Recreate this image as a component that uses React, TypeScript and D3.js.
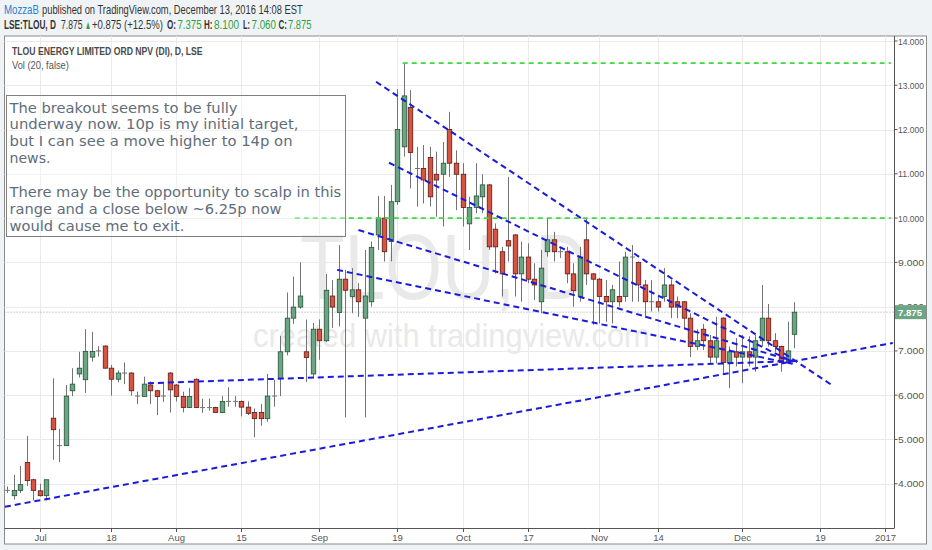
import { useLayoutEffect, useRef, useState } from "react";
import * as d3 from "d3";

// trading sessions on the LSE, Jun 24 2016 .. Dec 13 2016 (Aug 29 bank holiday closed)
const sessions: [string, string][] = [
  ["2016-06", "24 27 28 29 30"],
  ["2016-07", "01 04 05 06 07 08 11 12 13 14 15 18 19 20 21 22 25 26 27 28 29"],
  ["2016-08", "01 02 03 04 05 08 09 10 11 12 15 16 17 18 19 22 23 24 25 26 30 31"],
  ["2016-09", "01 02 05 06 07 08 09 12 13 14 15 16 19 20 21 22 23 26 27 28 29 30"],
  ["2016-10", "03 04 05 06 07 10 11 12 13 14 17 18 19 20 21 24 25 26 27 28 31"],
  ["2016-11", "01 02 03 04 07 08 09 10 11 14 15 16 17 18 21 22 23 24 25 28 29 30"],
  ["2016-12", "01 02 05 06 07 08 09 12 13"],
];
// empty space on the right of the chart (weekdays)
const futureSessions: [string, string][] = [
  ["2016-12", "14 15 16 19 20 21 22 23 26 27 28 29 30"],
  ["2017-01", "02 03 04"],
];

// open, high, low, close (pence)
const ohlc: [number, number, number, number][] = [
  [3.85, 3.94, 3.79, 3.85], [3.73, 4.2, 3.64, 3.85], [3.85, 4.4, 3.79, 3.98], [4.48, 5.08, 3.95, 4.07],
  [4.09, 4.11, 3.62, 3.85], [3.84, 4.0, 3.71, 3.73], [3.73, 4.09, 3.62, 4.09], [5.48, 6.38, 4.54, 5.22],
  [4.86, 5.24, 4.49, 4.86], [4.86, 6.23, 4.86, 5.98], [6.1, 6.61, 5.98, 6.25], [6.48, 6.98, 6.4, 6.61],
  [6.35, 7.49, 6.05, 6.99], [6.86, 7.43, 6.76, 6.99], [7.0, 7.11, 6.87, 7.0], [7.11, 7.13, 6.6, 6.61],
  [6.61, 6.68, 5.99, 6.36], [6.36, 6.56, 6.29, 6.5], [6.5, 6.74, 6.25, 6.5], [6.5, 6.52, 5.99, 6.1],
  [5.98, 6.08, 5.8, 5.98], [5.97, 6.42, 5.97, 6.25], [6.23, 6.31, 5.8, 6.1], [6.1, 6.12, 5.55, 5.97],
  [5.98, 6.29, 5.85, 5.98], [6.5, 6.52, 5.61, 6.12], [6.23, 6.25, 5.86, 5.97], [5.97, 6.08, 5.61, 5.72],
  [5.72, 6.16, 5.72, 5.97], [6.36, 6.38, 5.72, 5.72], [5.72, 5.92, 5.6, 5.72], [5.72, 5.92, 5.65, 5.72],
  [5.72, 5.74, 5.61, 5.61], [5.61, 5.98, 5.61, 5.86], [5.86, 6.18, 5.74, 5.86], [5.86, 5.98, 5.74, 5.86],
  [5.86, 5.88, 5.52, 5.73], [5.73, 5.86, 5.55, 5.59], [5.61, 5.7, 5.05, 5.47], [5.61, 5.8, 5.31, 5.47],
  [5.47, 6.48, 5.4, 5.98], [5.98, 6.35, 5.74, 5.98], [6.38, 7.34, 5.98, 6.98], [6.98, 8.32, 6.9, 7.74],
  [7.74, 8.68, 7.61, 7.99], [7.99, 9.0, 7.95, 8.24], [6.98, 7.71, 6.3, 6.85], [6.48, 7.63, 6.38, 7.49],
  [7.49, 7.71, 6.8, 7.23], [7.23, 8.74, 7.2, 8.37], [8.24, 8.6, 7.52, 7.99], [7.87, 9.39, 7.55, 8.62],
  [8.62, 8.83, 5.5, 8.37], [8.23, 8.87, 7.85, 8.38], [8.38, 8.53, 7.77, 8.11], [7.74, 9.28, 5.5, 8.24],
  [8.11, 9.47, 8.0, 9.34], [9.62, 10.5, 9.28, 10.0], [10.0, 10.5, 9.02, 9.24], [9.47, 10.75, 9.02, 10.37],
  [10.37, 12.91, 10.3, 12.0], [11.61, 13.5, 11.39, 12.76], [12.5, 12.89, 10.67, 11.48], [11.12, 11.61, 10.26, 11.12],
  [11.12, 11.65, 10.33, 10.86], [11.37, 11.61, 10.26, 10.48], [10.99, 11.5, 10.03, 10.86], [10.99, 11.72, 9.81, 11.24],
  [12.0, 12.4, 10.93, 11.24], [11.24, 11.53, 10.18, 10.99], [10.99, 11.24, 9.81, 10.24], [9.87, 10.48, 9.28, 10.24],
  [10.24, 11.24, 10.11, 10.5], [10.48, 10.99, 10.11, 10.75], [10.75, 10.77, 9.28, 9.35], [9.75, 9.88, 8.75, 9.35],
  [9.24, 9.35, 8.23, 8.74], [9.49, 10.93, 9.02, 9.37], [9.62, 9.64, 8.23, 8.74], [8.74, 9.47, 8.11, 9.12],
  [9.12, 9.43, 8.53, 8.62], [8.62, 8.98, 8.15, 8.49], [8.11, 9.28, 7.85, 8.87], [9.24, 10.0, 9.13, 9.51],
  [9.51, 9.69, 9.02, 9.24], [9.24, 9.35, 9.1, 9.24], [9.24, 9.35, 8.53, 8.74], [8.74, 8.98, 8.0, 8.36],
  [8.23, 9.35, 8.11, 9.12], [9.51, 10.0, 8.49, 8.74], [8.74, 8.76, 7.59, 8.62], [8.62, 8.65, 7.62, 8.23],
  [8.23, 8.6, 7.66, 8.11], [8.11, 8.49, 7.62, 8.38], [8.23, 9.02, 8.0, 8.11], [8.23, 9.24, 8.11, 9.12],
  [9.12, 9.39, 8.11, 9.12], [9.0, 9.02, 8.11, 8.49], [8.49, 8.6, 7.74, 8.11], [8.11, 8.6, 7.89, 8.11],
  [8.11, 8.23, 7.89, 7.99], [8.23, 8.87, 8.11, 8.49], [8.49, 8.6, 7.74, 7.99], [8.11, 8.23, 7.74, 7.99],
  [8.11, 8.13, 7.51, 7.74], [7.74, 7.85, 6.86, 7.1], [7.1, 7.49, 7.02, 7.23], [7.49, 7.61, 7.02, 7.23],
  [7.23, 7.36, 6.72, 6.86], [6.86, 7.77, 6.72, 7.23], [7.74, 7.76, 6.5, 6.74], [6.74, 7.1, 6.16, 6.98],
  [6.98, 7.29, 6.65, 6.86], [6.86, 7.36, 6.27, 6.98], [6.98, 7.33, 6.65, 6.86], [6.86, 7.36, 6.53, 7.23],
  [7.23, 8.49, 7.1, 7.74], [7.74, 8.06, 7.1, 7.23], [7.23, 7.4, 6.98, 7.1], [7.1, 7.12, 6.53, 6.74],
  [6.74, 7.66, 6.74, 7.0], [7.375, 8.1, 7.06, 7.875],
];

const priceTicks = [4, 5, 6, 7, 8, 9, 10, 11, 12, 13, 14];
const timeTicks: [string, string][] = [
  ["2016-07-01", "Jul"], ["2016-07-18", "18"], ["2016-08-01", "Aug"], ["2016-08-15", "15"],
  ["2016-09-01", "Sep"], ["2016-09-19", "19"], ["2016-10-03", "Oct"], ["2016-10-17", "17"],
  ["2016-11-01", "Nov"], ["2016-11-14", "14"], ["2016-12-01", "Dec"], ["2016-12-19", "19"],
  ["2017-01-02", "2017"],
];

// drawn trend lines: [session index, price]
const fanLines: [number, number][][] = [
  [[56.7, 13.08], [126.8, 6.23]],
  [[58.7, 11.25], [120.8, 6.75]],
  [[54.0, 9.73], [120.8, 6.77]],
  [[50.7, 8.83], [120.8, 6.71]],
  [[21.6, 6.27], [120.8, 6.77]],
  [[-0.4, 3.48], [136.2, 7.18]],
];
const levelLines: [number, number][][] = [
  [[60.8, 13.5], [135.9, 13.5]],
  [[44.2, 10.0], [135.9, 10.0]],
];
const lastPrice = 7.875;

// header quote line
const quoteLabels = ["O:", "H:", "L:", "C:"];
const quoteValues = ["7.375", "8.100", "7.060", "7.875"];

const noteLines = [
  "The breakout seems to be fully",
  "underway now. 10p is my initial target,",
  "but I can see a move higher to 14p on",
  "news.",
  "",
  "There may be the opportunity to scalp in this",
  "range and a close below ~6.25p now",
  "would cause me to exit.",
];
const noteLengths = [228, 289, 283, 41, 0, 332, 272, 175];

const UP = "#6ba583", UP_EDGE = "#225437", DOWN = "#d75442", DOWN_EDGE = "#5b1a13", WICK = "#737375";
const GAIN = "#2e9e3e";
const FONT = "'Liberation Sans', Arial, sans-serif";

// text squeezed horizontally to a given width (the snapshot uses condensed type)
function FitText({ x, y, width, children, ...rest }: any) {
  const ref = useRef<SVGTextElement>(null);
  const [s, setS] = useState(1);
  useLayoutEffect(() => {
    if (!ref.current) return;
    const w = ref.current.getComputedTextLength();
    if (w > 0) setS(width / w);
  }, [width, children]);
  return (
    <text ref={ref} x={0} y={0} transform={`translate(${x},${y}) scale(${s},1)`} {...rest}>{children}</text>
  );
}

export default function App() {
  const W = 932, H = 550;
  const plot = { left: 4.5, right: 894.5, top: 36, bottom: 528 };
  const days = [...sessions, ...futureSessions].flatMap(([m, ds]) => ds.split(" ").map(d => `${m}-${d}`));

  const x = d3.scaleLinear().domain([-0.46, 136.46]).range([plot.left, plot.right]);
  const y = d3.scaleLinear().domain([3, 14]).range([plot.bottom, 41]);
  const line = d3.line<[number, number]>().x(d => x(d[0])).y(d => y(d[1]));

  // header quote line layout: [left, width]
  const labelBoxes: [number, number][] = [[167, 9], [204, 8.5], [243, 7], [278.5, 8.5]];
  const valueBoxes: [number, number][] = [[177.5, 24], [214, 25], [251.5, 24.5], [288, 23.5]];

  return (
    <svg width={W} height={H} style={{ position: "absolute", left: 0, top: 0, display: "block" }}
      fontFamily={FONT}>
      <rect width={W} height={H} fill="#f0f3f6" />

      {/* publication header */}
      <FitText x={4} y={14} width={35} fontSize={12} fill="#2a7fd0">MozzaB</FitText>
      <FitText x={42} y={14} width={261} fontSize={12} fill="#333">
        published on TradingView.com, December 13, 2016 14:08 EST
      </FitText>
      <FitText x={4} y={29} width={52} fontSize={12} fontWeight={700} fill="#333">LSE:TLOU, D</FitText>
      <FitText x={61} y={29} width={21.5} fontSize={12} fill="#333">{lastPrice.toFixed(3)}</FitText>
      <FitText x={85} y={29} width={6} fontSize={12} fill={GAIN}>{"\u25B2"}</FitText>
      <FitText x={92} y={29} width={71} fontSize={12} fill="#333">+0.875 (+12.5%)</FitText>
      {quoteLabels.map((k, i) => (
        <FitText key={k} x={labelBoxes[i][0]} y={29} width={labelBoxes[i][1]} fontSize={12} fontWeight={700} fill="#333">{k}</FitText>
      ))}
      {quoteValues.map((v, i) => (
        <FitText key={"v" + i} x={valueBoxes[i][0]} y={29} width={valueBoxes[i][1]} fontSize={12} fill={GAIN}>{v}</FitText>
      ))}

      {/* chart box */}
      <rect x={4.5} y={36} width={922} height={508} fill="#fff" stroke="#8a8a8a" />

      <defs>
        <clipPath id="plot">
          <rect x={plot.left} y={plot.top} width={plot.right - plot.left} height={plot.bottom - plot.top} />
        </clipPath>
      </defs>

      {/* grid */}
      <g stroke="#eaeaea" strokeWidth={1}>
        {priceTicks.map(p => (
          <line key={p} x1={plot.left} x2={plot.right} y1={Math.round(y(p)) + 0.5} y2={Math.round(y(p)) + 0.5} />
        ))}
        {timeTicks.map(([d]) => {
          const xx = Math.round(x(days.indexOf(d))) + 0.5;
          return <line key={d} x1={xx} x2={xx} y1={plot.top} y2={plot.bottom} />;
        })}
      </g>

      {/* watermark */}
      <FitText x={300} y={299} width={288} fontSize={92} fill="#e9e9e9">TLOU, D</FitText>
      <FitText x={253} y={347} width={397} fontSize={34} fill="#e9e9e9">created with tradingview.com</FitText>

      {/* legend text */}
      <FitText x={12} y={55} width={191} fontSize={10.5} fontWeight={700} fill="#4a4a4a">
        TLOU ENERGY LIMITED ORD NPV (DI), D, LSE
      </FitText>
      <FitText x={12} y={69} width={57} fontSize={10.5} fill="#555">Vol (20, false)</FitText>

      <g clipPath="url(#plot)">
        {/* last price dotted line */}
        <line x1={plot.left} x2={plot.right} y1={y(lastPrice)} y2={y(lastPrice)} stroke="#a0a0a0" strokeDasharray="1 2" />

        {/* candles */}
        {ohlc.map(([o, h, l, c], i) => {
          const cx = Math.round(x(i)) + 0.5;
          const up = c >= o;
          const top = y(Math.max(o, c));
          const bot = y(Math.min(o, c));
          const doji = bot - top < 1.5;
          return (
            <g key={days[i]}>
              <line x1={cx} x2={cx} y1={y(h)} y2={y(l)} stroke={WICK} strokeWidth={1} />
              {doji ? (
                <line x1={cx - 2.5} x2={cx + 2.5} y1={top} y2={top} stroke={WICK} strokeWidth={1} />
              ) : (
                <rect x={cx - 2.25} y={top} width={4.5} height={bot - top}
                  fill={up ? UP : DOWN} stroke={up ? UP_EDGE : DOWN_EDGE} strokeWidth={0.8} />
              )}
            </g>
          );
        })}

        {/* drawings */}
        {levelLines.map((pts, i) => (
          <path key={"lv" + i} d={line(pts) ?? ""} fill="none" stroke="#3ddc3d" strokeWidth={1.6} strokeDasharray="5 4" />
        ))}
        {fanLines.map((pts, i) => (
          <path key={"fl" + i} d={line(pts) ?? ""} fill="none" stroke="#1b1bdc" strokeWidth={2} strokeDasharray="6 4" />
        ))}
      </g>

      {/* note */}
      <rect x={6.5} y={95.5} width={339} height={141} fill="#fff" fillOpacity={0.35} stroke="#808080" />
      {noteLines.map((t, i) => t ? (
        <FitText key={i} x={9.5} y={112.5 + i * 16.9} width={noteLengths[i]}
          fontFamily="'DejaVu Sans', Verdana, sans-serif" fontSize={14.4} fill="#5f6d7b">{t}</FitText>
      ) : null)}

      {/* axes */}
      <line x1={plot.right} x2={plot.right} y1={plot.top} y2={plot.bottom} stroke="#555" />
      <line x1={plot.left} x2={plot.right} y1={plot.bottom + 0.5} y2={plot.bottom + 0.5} stroke="#555" />
      {priceTicks.map(p => (
        <g key={p}>
          <line x1={plot.right} x2={plot.right + 3} y1={y(p)} y2={y(p)} stroke="#555" />
          <FitText x={898} y={y(p) + 3.5} width={26} fontSize={9.5} fill="#555">{p.toFixed(3)}</FitText>
        </g>
      ))}
      {timeTicks.map(([d, label]) => {
        const xx = Math.round(x(days.indexOf(d))) + 0.5;
        return (
          <g key={d}>
            <line x1={xx} x2={xx} y1={plot.bottom} y2={plot.bottom + 4} stroke="#555" />
            <text x={xx} y={541} fontSize={9.5} fill="#555" textAnchor="middle">{label}</text>
          </g>
        );
      })}

      {/* last price tag */}
      <rect x={plot.right + 0.5} y={y(lastPrice) - 7} width={31} height={14} fill={UP} />
      <FitText x={898} y={y(lastPrice) + 3.5} width={24} fontSize={9.5} fontWeight={700} fill="#fff">
        {lastPrice.toFixed(3)}
      </FitText>
    </svg>
  );
}
